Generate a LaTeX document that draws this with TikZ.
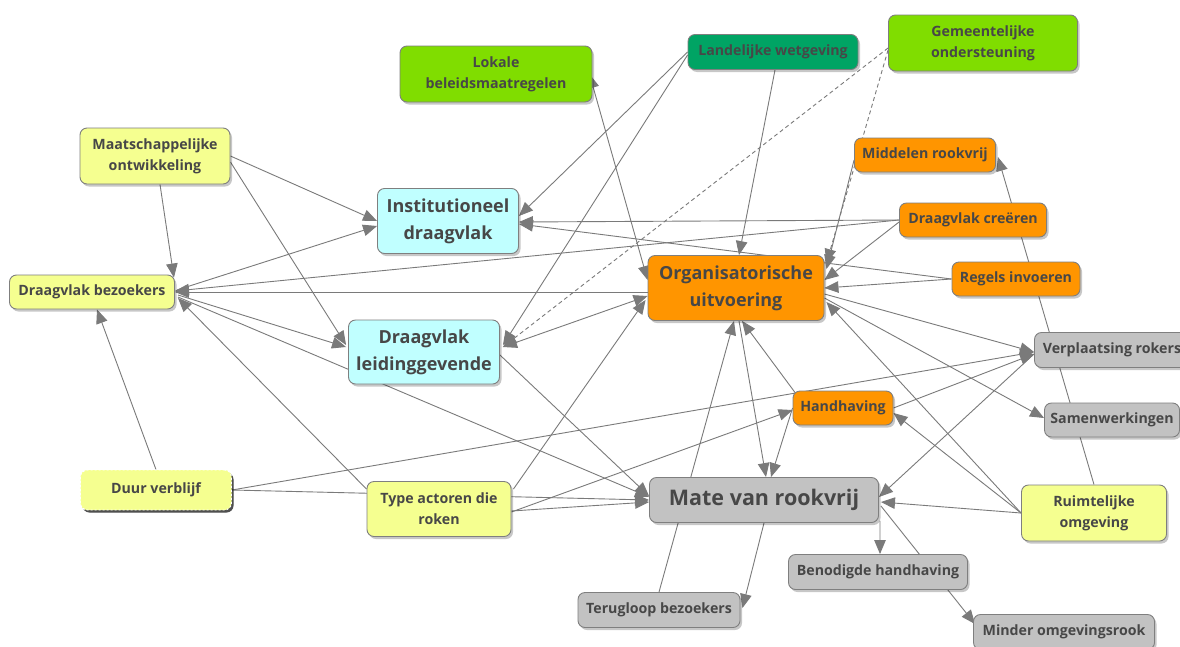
\documentclass[tikz,border=0pt]{standalone}
\usepackage{fontspec}
\setmainfont{Open Sans}
\usetikzlibrary{arrows.meta,shadows,calc}
\definecolor{cLime}{HTML}{80DD00}
\definecolor{cDGreen}{HTML}{00A464}
\definecolor{cYellow}{HTML}{F5FF90}
\definecolor{cCyan}{HTML}{C0FFFF}
\definecolor{cOrange}{HTML}{FF9500}
\definecolor{cGrey}{HTML}{C2C2C2}
\definecolor{cBorder}{HTML}{7F7F7F}
\definecolor{cText}{HTML}{474747}
\definecolor{cEdge}{HTML}{7A7A7A}
\pgfdeclarelayer{back}
\pgfdeclarelayer{bg}
\pgfsetlayers{back,bg,main}
\tikzset{
  box/.style={rounded corners=7pt, draw=cBorder, line width=0.9pt, align=center,
    font=\bfseries\fontsize{14.2}{21}\selectfont, text=cText, inner sep=0pt,
    drop shadow={shadow xshift=2pt, shadow yshift=-2.5pt, fill=black, opacity=0.22}},
  bigf/.style={font=\bfseries\fontsize{18}{27}\selectfont},
  hugef/.style={font=\bfseries\fontsize{21.5}{24}\selectfont},
  lime/.style={box, fill=cLime},
  dgreen/.style={box, fill=cDGreen},
  yel/.style={box, fill=cYellow},
  cya/.style={box, fill=cCyan, bigf},
  ora/.style={box, fill=cOrange},
  gry/.style={box, fill=cGrey},
  ed/.style={draw=cEdge, line width=0.9pt, -{Triangle[length=14pt,width=11.5pt]}},
  edb/.style={draw=cEdge, line width=0.9pt, {Triangle[length=14pt,width=11.5pt]}-{Triangle[length=14pt,width=11.5pt]}},
  edd/.style={ed, dash pattern=on 4pt off 3pt}
}
\begin{document}
\begin{tikzpicture}[x=1pt,y=-1pt]
\useasboundingbox (0,0) rectangle (1180,646);
\begin{pgfonlayer}{back}
\fill[white] (0,0) rectangle (1180,646);
\end{pgfonlayer}

\node[lime, minimum width=192pt, minimum height=56pt] (LB) at (496,74) {Lokale\\beleidsmaatregelen};
\node[dgreen, minimum width=170pt, minimum height=35pt] (LW) at (773,52) {Landelijke wetgeving};
\node[lime, minimum width=189pt, minimum height=56pt] (GO) at (983,43) {Gemeentelijke\\ondersteuning};
\node[yel, minimum width=150pt, minimum height=56pt] (MO) at (155,156) {Maatschappelijke\\ontwikkeling};
\node[cya, minimum width=141pt, minimum height=65pt] (ID) at (448,221) {Institutioneel\\draagvlak};
\node[ora, minimum width=141pt, minimum height=34pt] (MR) at (925,155) {Middelen rookvrij};
\node[ora, minimum width=147pt, minimum height=34pt] (DC) at (973,220) {Draagvlak creëren};
\node[yel, minimum width=165pt, minimum height=34pt] (DB) at (92,292) {Draagvlak bezoekers};
\node[ora, bigf, minimum width=176pt, minimum height=65pt] (OU) at (736,288) {Organisatorische\\uitvoering};
\node[ora, minimum width=128pt, minimum height=34pt] (RI) at (1016,279) {Regels invoeren};
\node[cya, minimum width=151pt, minimum height=64pt] (DL) at (424,352) {Draagvlak\\leidinggevende};
\node[gry, minimum width=155pt, minimum height=35pt] (VR) at (1112,350) {Verplaatsing rokers};
\node[ora, minimum width=100pt, minimum height=34pt] (HH) at (843,408) {Handhaving};
\node[gry, minimum width=135pt, minimum height=34pt] (SW) at (1112,420) {Samenwerkingen};
\node[yel, draw=white, dash pattern=on 2pt off 2pt,
  drop shadow={shadow xshift=2pt, shadow yshift=-2.5pt, fill=black, opacity=0.6},
  minimum width=151pt, minimum height=40pt] (DV) at (156,490) {Duur verblijf};
\node[yel, minimum width=144pt, minimum height=55pt] (TA) at (439,509) {Type actoren die\\roken};
\node[gry, hugef, minimum width=229pt, minimum height=45pt] (MV) at (764,500) {Mate van rookvrij};
\node[yel, minimum width=145pt, minimum height=56pt] (RO) at (1094,513) {Ruimtelijke\\omgeving};
\node[gry, minimum width=179pt, minimum height=35pt] (BH) at (878,572) {Benodigde handhaving};
\node[gry, minimum width=162pt, minimum height=35pt] (TB) at (659,610) {Terugloop bezoekers};
\node[gry, minimum width=181pt, minimum height=35pt] (MOR) at (1064,632) {Minder omgevingsrook};

\begin{pgfonlayer}{bg}
\draw[ed] (MO.east) -- (ID.west);
\draw[ed] ($(MO.east)+(0,6)$) -- ($(DL.west)+(-2,-7)$);
\draw[ed] ($(MO.south)+(5,0)$) -- ($(DB.north east)+(-1,3)$);
\draw[ed] ($(DB.east)+(2,-2)$) -- ($(ID.west)+(0,5)$);
\draw[ed] ($(OU.west)+(0,4)$) -- (DB.east);
\draw[ed] (DC.west) -- ($(DB.east)+(0,-1)$);
\draw[ed] ($(DB.east)+(3,3)$) -- ($(DL.west)+(-2,-5)$);
\draw[ed] ($(TA.north west)+(0,8)$) -- ($(DB.east)+(3,6)$);
\draw[ed] ($(DB.east)+(3,5)$) -- ($(MV.west)+(0,-3)$);
\draw[ed] (DV.north) -- ($(DB.south)+(5,0)$);
\draw[ed] (DV.east) -- (MV.west);
\draw[ed] (DV.east) -- ($(VR.west)+(0,2)$);
\draw[edb] ($(LB.east)+(-3,0)$) -- ($(OU.west)+(0,-8)$);
\draw[ed] (LW.west) -- ($(ID.east)+(0,-5)$);
\draw[ed] ($(LW.west)+(0,3)$) -- ($(DL.east)+(3,-7)$);
\draw[ed] ($(LW.south)+(2,0)$) -- ($(OU.north)+(3,0)$);
\draw[edd] ($(GO.west)+(0,5)$) -- ($(DL.east)+(3,-5)$);
\draw[edd] ($(GO.west)+(0,7)$) -- ($(OU.north east)+(2,8)$);
\draw[ed] (DC.west) -- ($(ID.east)+(0,1)$);
\draw[ed] (RI.west) -- ($(ID.east)+(0,3)$);
\draw[ed] ($(DC.west)+(0,2)$) -- ($(OU.east)+(0,-8)$);
\draw[ed] (RI.west) -- (OU.east);
\draw[ed] ($(MR.west)+(0,5)$) -- ($(OU.north east)+(2,14)$);
\draw[ed] (RO.north) -- ($(MR.east)+(2,2)$);
\draw[edb] ($(DL.east)+(3,-5)$) -- ($(OU.west)+(0,8)$);
\draw[ed] ($(TA.north east)+(2,8)$) -- ($(OU.west)+(-2,12)$);
\draw[ed] ($(TA.east)+(0,2)$) -- ($(MV.west)+(0,2)$);
\draw[ed] ($(TA.east)+(0,3)$) -- ($(HH.west)+(0,2)$);
\draw[ed] ($(DL.east)+(0,3)$) -- ($(MV.west)+(0,-4)$);
\draw[ed] ($(OU.south)+(3,0)$) -- ($(MV.north)+(2,0)$);
\draw[ed] ($(HH.north west)+(4,4)$) -- ($(OU.south)+(6,0)$);
\draw[ed] (HH.west) -- ($(MV.north)+(7,0)$);
\draw[ed] (TB.north) -- ($(OU.south)+(-2,0)$);
\draw[ed] (MV.south) -- ($(TB.east)+(2,-2)$);
\draw[ed] ($(MV.south east)+(1,-2)$) -- ($(BH.north)+(2,0)$);
\draw[ed] ($(MV.east)+(2,6)$) -- ($(MOR.north west)+(2,10)$);
\draw[ed] ($(OU.east)+(0,6)$) -- ($(VR.west)+(0,2)$);
\draw[ed] ($(OU.east)+(0,10)$) -- ($(SW.west)+(0,-2)$);
\draw[ed] (RO.west) -- ($(OU.east)+(2,14)$);
\draw[ed] (RO.west) -- ($(HH.east)+(0,5)$);
\draw[ed] (RO.west) -- ($(MV.east)+(2,2)$);
\draw[ed] ($(VR.west)+(0,4)$) -- ($(MV.east)+(0,-3)$);
\draw[ed] (HH.east) -- ($(VR.west)+(0,4)$);
\end{pgfonlayer}
\end{tikzpicture}
\end{document}
